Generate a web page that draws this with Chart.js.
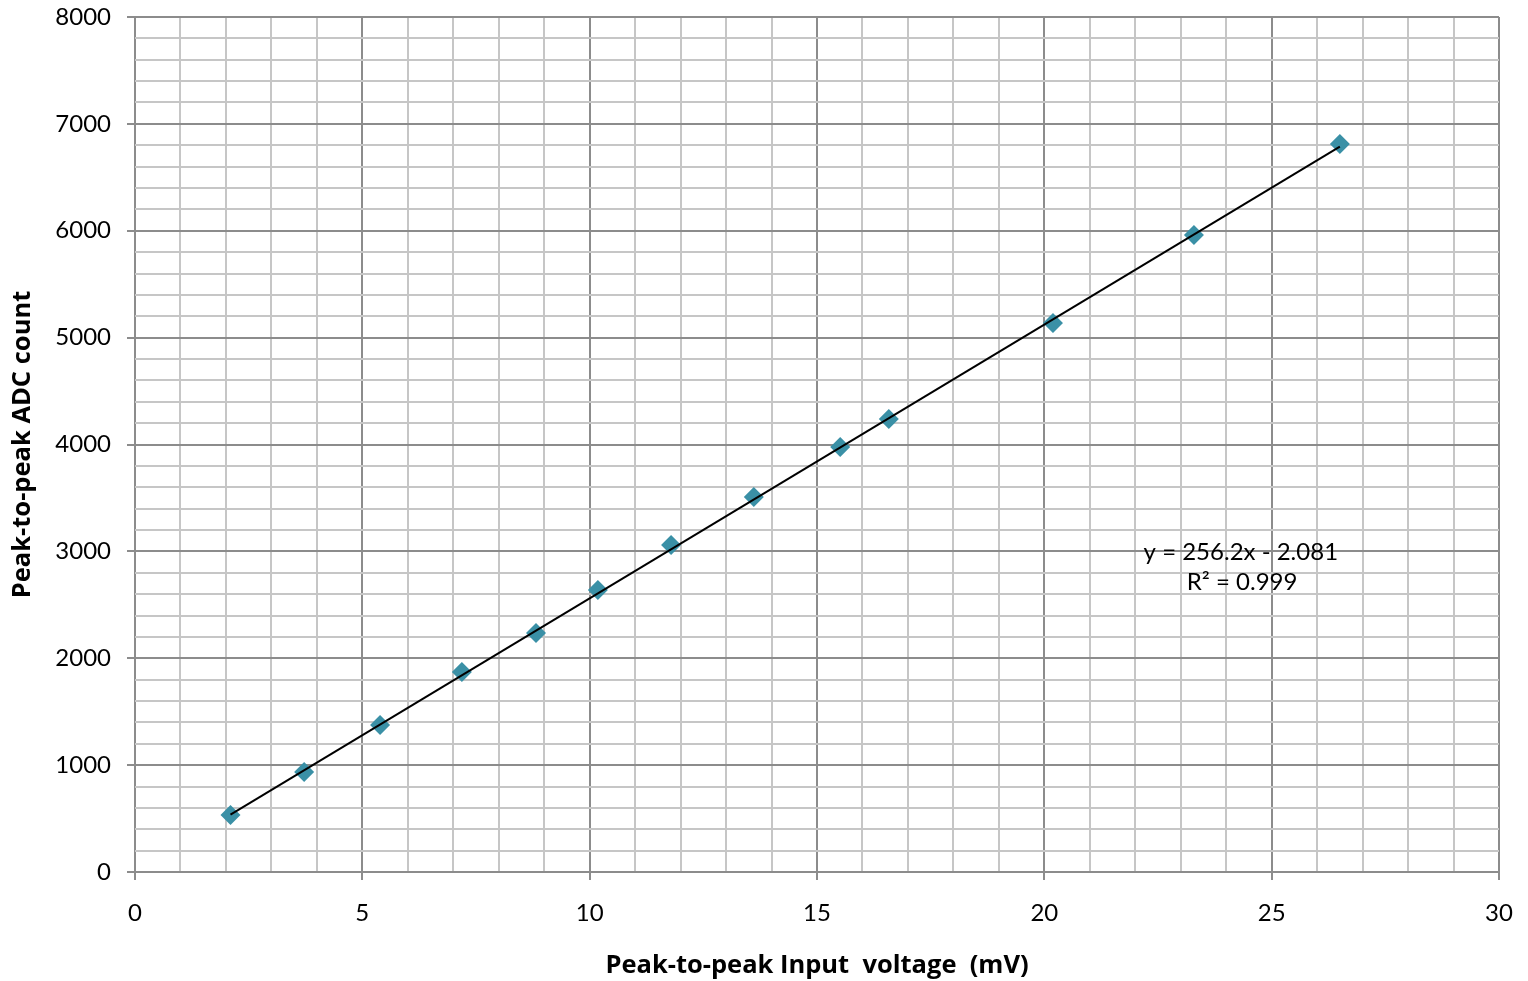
<!DOCTYPE html>
<html>
<head>
<meta charset="utf-8">
<script src="https://cdn.jsdelivr.net/npm/chart.js@4.4.1/dist/chart.umd.min.js"></script>
<style>
  html, body { margin: 0; padding: 0; background: #fff; }
  #wrap { width: 1528px; height: 981px; position: relative; }
</style>
</head>
<body>
<div id="wrap"><canvas id="chart" width="1528" height="981"></canvas></div>
<script>
// ─── 데이터 ──────────────────────────────────────────────────────────────────
const inputMv = [2.1, 3.72, 5.39, 7.19, 8.82, 10.18, 11.79, 13.61, 15.51, 16.58, 20.19, 23.29, 26.5];
const adcCount = [533, 936, 1375, 1871, 2236, 2639, 3060, 3509, 3977, 4239, 5137, 5960, 6812];

// 추세선 양 끝점
const trendX = [2.1, 26.5];
const trendY = [536, 6787];

const trendLabel = ['y = 256.2x - 2.081', 'R² = 0.999'];
const xTitle = 'Peak-to-peak Input  voltage  (mV)';
const yTitle = 'Peak-to-peak ADC count';

const FONT = "Lato, 'Open Sans', sans-serif";
const TITLE_FONT = "'Open Sans', Lato, sans-serif";
const MAJOR = '#8c8c8c';
const MINOR = '#c6c6c6';
const MARKER = '#3a90a6';

// ─── 추세식 텍스트 플러그인 ──────────────────────────────────────────────────
const trendText = {
  id: 'trendText',
  afterDatasetsDraw(chart) {
    const { ctx, scales } = chart;
    ctx.save();
    ctx.font = '24px ' + FONT;
    ctx.fillStyle = '#000';
    ctx.textBaseline = 'middle';
    ctx.textAlign = 'right';
    ctx.fillText(trendLabel[0], scales.x.getPixelForValue(26.46), scales.y.getPixelForValue(2994));
    ctx.textAlign = 'center';
    ctx.fillText(trendLabel[1], scales.x.getPixelForValue(24.35), scales.y.getPixelForValue(2713));
    ctx.restore();
  },
};

const ctx = document.getElementById('chart').getContext('2d');
new Chart(ctx, {
  type: 'scatter',
  data: {
    datasets: [
      {
        label: 'trend',
        data: trendX.map((x, i) => ({ x, y: trendY[i] })),
        showLine: true,
        borderColor: '#000',
        borderWidth: 2,
        pointRadius: 0,
      },
      {
        label: 'ADC',
        data: inputMv.map((x, i) => ({ x, y: adcCount[i] })),
        pointStyle: 'rectRot',
        pointRadius: 10,
        pointBackgroundColor: MARKER,
        pointBorderWidth: 0,
        borderColor: MARKER,
      },
    ],
  },
  options: {
    responsive: false,
    animation: false,
    layout: { padding: { top: 17, right: 29, left: 0, bottom: 0 } },
    plugins: { legend: { display: false }, tooltip: { enabled: false } },
    scales: {
      x: {
        type: 'linear',
        min: 0,
        max: 30,
        afterFit: (s) => { s.height = 109; s.paddingLeft = 0; s.paddingRight = 0; },
        ticks: {
          stepSize: 1,
          autoSkip: false,
          maxRotation: 0,
          padding: 19,
          color: '#000',
          font: { family: FONT, size: 24 },
          callback: (v) => (v % 5 === 0 ? v : ''),
        },
        grid: {
          color: (c) => (c.tick && c.tick.value % 5 === 0 ? MAJOR : MINOR),
          lineWidth: 2,
          tickLength: 8,
          tickColor: (c) => (c.tick && c.tick.value % 5 === 0 ? MAJOR : 'rgba(0,0,0,0)'),
        },
        border: { display: false },
        title: {
          display: true,
          text: xTitle,
          color: '#000',
          font: { family: TITLE_FONT, size: 25.5, weight: 'bold' },
          padding: { top: 0, bottom: 0 },
        },
      },
      y: {
        type: 'linear',
        min: 0,
        max: 8000,
        afterFit: (s) => { s.width = 135; s.paddingTop = 0; s.paddingBottom = 0; },
        ticks: {
          stepSize: 200,
          autoSkip: false,
          padding: 16,
          color: '#000',
          font: { family: FONT, size: 24 },
          callback: (v) => (v % 1000 === 0 ? v : ''),
        },
        grid: {
          color: (c) => (c.tick && c.tick.value % 1000 === 0 ? MAJOR : MINOR),
          lineWidth: 2,
          tickLength: 8,
          tickColor: (c) => (c.tick && c.tick.value % 1000 === 0 ? MAJOR : 'rgba(0,0,0,0)'),
        },
        border: { display: false },
        title: {
          display: true,
          text: yTitle,
          color: '#000',
          font: { family: TITLE_FONT, size: 25.5, weight: 'bold' },
          padding: { top: 7, bottom: 0 },
        },
      },
    },
  },
  plugins: [trendText],
});
</script>
</body>
</html>
